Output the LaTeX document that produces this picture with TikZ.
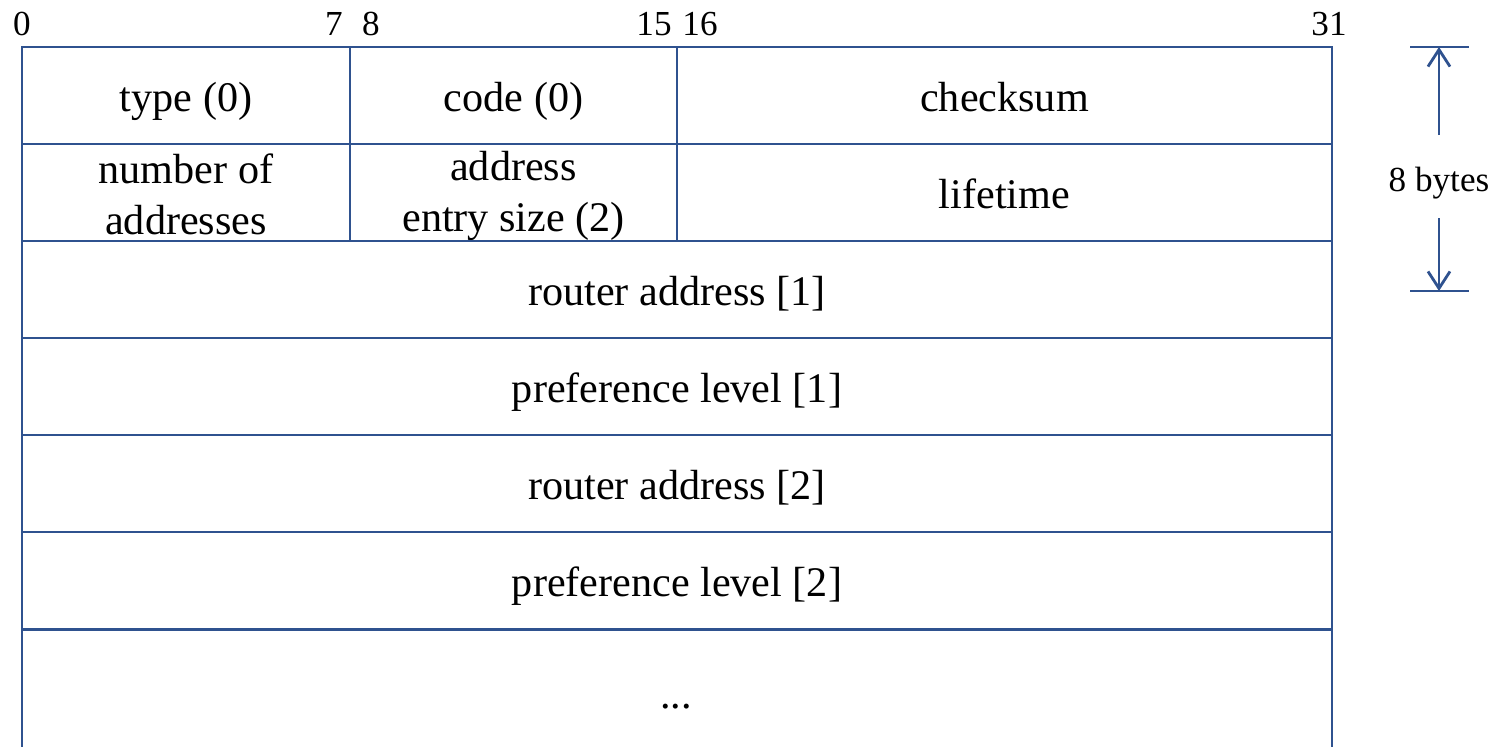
\documentclass[tikz,border=0pt]{standalone}
\usepackage{fontspec}
\setmainfont{Liberation Serif}
\usetikzlibrary{arrows.meta}
\definecolor{frame}{HTML}{2F528F}
\begin{document}
\begin{tikzpicture}[x=0.02cm,y=-0.02cm,
  cell/.style={draw=frame, line width=1.1pt, rectangle, inner sep=0pt, align=center,
    font=\fontsize{24}{29}\selectfont},
  oneline/.style={text height=18pt, text depth=0pt},
  bitlbl/.style={inner sep=0pt, font=\fontsize{20}{24}\selectfont},
  dim/.style={draw=frame, line width=1.6pt},
  dimarrow/.style={dim, -{Straight Barb[length=0.34cm,width=0.44cm,line width=1.6pt]}}]
\useasboundingbox (0,0) rectangle (1499,747);
\clip (0,0) rectangle (1499,747);
% bit labels
\node[bitlbl] (b0) at (22,24) {0};
\node[bitlbl] (b7) at (334,24) {7};
\node[bitlbl] (b8) at (371,24) {8};
\node[bitlbl] (b15) at (654,24) {15};
\node[bitlbl] (b16) at (700,24) {16};
\node[bitlbl] (b31) at (1329,24) {31};
% row 1
\node[cell, oneline, minimum width=6.56cm, minimum height=1.94cm] (type) at (186,95.5) {type (0)};
\node[cell, oneline, minimum width=6.54cm, minimum height=1.94cm] (code) at (513.5,95.5) {code (0)};
\node[cell, oneline, minimum width=13.10cm, minimum height=1.94cm] (chk) at (1004.5,95.5) {checksum};
% row 2
\node[cell, minimum width=6.56cm, minimum height=1.94cm] (num) at (186,192.5) {\rule{0pt}{19pt}number of\\addresses};
\node[cell, minimum width=6.54cm, minimum height=1.94cm] (aes) at (513.5,192.5) {\rule{0pt}{20.5pt}address\\entry size (2)};
\node[cell, oneline, minimum width=13.10cm, minimum height=1.94cm] (life) at (1004.5,192.5) {lifetime};
% full rows
\node[cell, oneline, minimum width=26.20cm, minimum height=1.94cm] (ra1) at (677,289.5) {router address [1]};
\node[cell, oneline, minimum width=26.20cm, minimum height=1.94cm] (pl1) at (677,386.5) {preference level [1]};
\node[cell, oneline, minimum width=26.20cm, minimum height=1.94cm] (ra2) at (677,483.5) {router address [2]};
\node[cell, oneline, minimum width=26.20cm, minimum height=1.94cm] (pl2) at (677,580.5) {preference level [2]};
\node[cell, minimum width=26.20cm, minimum height=3.00cm, anchor=north] (more) at (677,629) {};
\node[inner sep=0pt, anchor=base, font=\fontsize{24}{29}\selectfont] (dots) at (676,708) {...};
% dimension marker
\coordinate (tl) at (1410,47);
\coordinate (tr) at (1469,47);
\coordinate (bl) at (1410,291);
\coordinate (br) at (1469,291);
\coordinate (ttip) at (1439,47);
\coordinate (btip) at (1439,291);
\draw[dim] (tl) -- (tr);
\draw[dim] (bl) -- (br);
\node[bitlbl] (bytes) at (1439,183) {8 bytes};
\coordinate (aup) at (1439,135);
\coordinate (adn) at (1439,218);
\draw[dimarrow] (aup) -- (ttip);
\draw[dimarrow] (adn) -- (btip);
\end{tikzpicture}
\end{document}
